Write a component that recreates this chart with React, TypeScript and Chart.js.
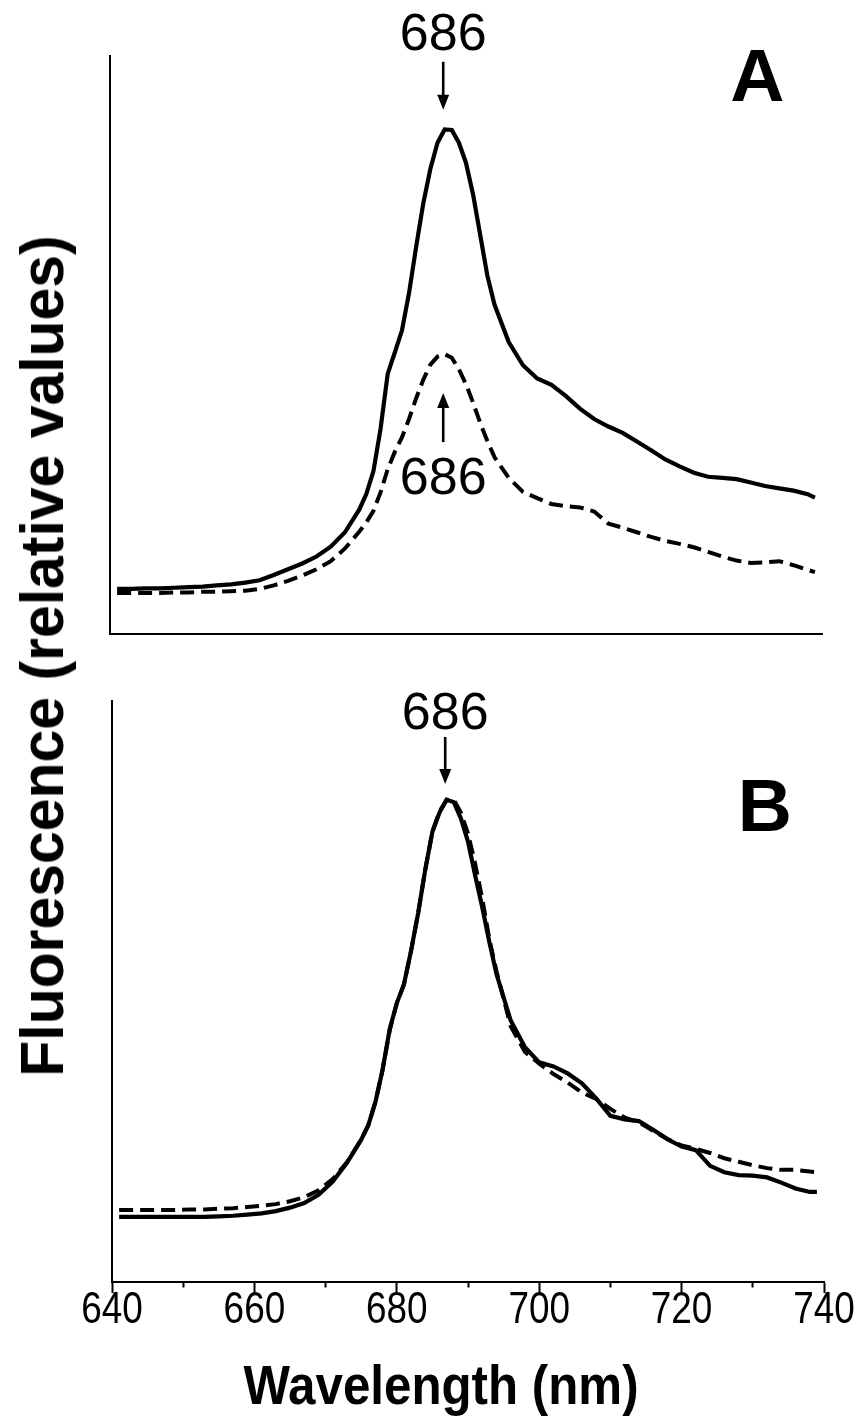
import React, { useEffect, useRef } from 'react';
import { Chart, registerables } from 'chart.js';

Chart.register(...registerables);

// ---- data ----
const wavelengths = [
  641, 643, 645, 647, 649, 651, 653, 655, 657, 659, 661, 663, 665, 667, 669, 671, 673, 675,
  676, 677, 678, 679, 680, 681, 682, 683, 684, 685, 686, 687, 688, 689, 690, 691, 692, 693, 694,
  696, 698, 700, 702, 704, 706, 708, 710, 712, 714, 716, 718, 720, 722, 724, 726, 728, 730, 732, 734, 736, 738,
  739,
];

// Panel A, solid curve
const panelASolid = [
  7.8, 7.8, 7.9, 7.9, 8.0, 8.1, 8.2, 8.4, 8.6, 8.9, 9.3, 10.2, 11.2, 12.2, 13.4, 15.1, 17.6, 21.5,
  24.2, 28.2, 35.5, 45.0, 48.7, 52.5, 59.0, 67.0, 74.5, 80.5, 85.0, 87.3, 87.2, 85.0, 81.5, 76.0, 69.0, 62.0, 57.0,
  50.5, 46.5, 44.2, 43.1, 41.2, 39.0, 37.2, 35.9, 34.8, 33.3, 31.8, 30.2, 29.0, 27.9, 27.2, 27.0, 26.8, 26.2, 25.6, 25.2, 24.8, 24.2,
  23.6,
];

// Panel A, dashed curve
const panelADashed = [
  7.1, 7.1, 7.1, 7.1, 7.2, 7.2, 7.3, 7.3, 7.4, 7.5, 7.8, 8.4, 9.2, 10.1, 11.2, 12.6, 14.8, 17.7,
  19.3, 21.3, 24.5, 28.5, 31.5, 34.0, 37.2, 40.8, 44.0, 46.6, 48.0, 48.4, 47.8, 45.8, 43.2, 40.0, 36.5, 33.4, 30.6,
  27.0, 24.6, 23.5, 22.5, 22.1, 21.9, 21.2, 19.1, 18.4, 17.6, 16.8, 16.1, 15.6, 15.0, 14.2, 13.4, 12.7, 12.3, 12.4, 12.6, 11.9, 11.1,
  10.7,
];

// Panel B, solid curve
const panelBSolid = [
  11.2, 11.2, 11.2, 11.2, 11.2, 11.2, 11.2, 11.3, 11.4, 11.6, 11.8, 12.2, 12.8, 13.6, 15.0, 17.3, 20.5, 24.5,
  27.0, 31.0, 36.5, 43.5, 48.0, 51.2, 57.0, 63.5, 71.0, 77.5, 80.8, 83.0, 82.6, 79.8, 75.8, 70.0, 64.5, 58.5, 53.0,
  45.0, 40.4, 37.8, 37.1, 35.9, 34.2, 31.6, 28.6, 28.0, 27.7, 26.2, 24.6, 23.3, 22.7, 20.0, 18.9, 18.4, 18.3, 18.0, 17.1, 16.1, 15.5,
  15.5,
];

// Panel B, dashed curve
const panelBDashed = [
  12.4, 12.4, 12.4, 12.4, 12.4, 12.5, 12.5, 12.6, 12.7, 12.9, 13.1, 13.4, 13.9, 14.6, 15.8, 17.7, 20.6, 24.5,
  27.0, 31.0, 36.5, 43.3, 48.0, 51.2, 57.0, 63.5, 71.0, 77.5, 81.0, 83.0, 83.0, 80.8, 77.2, 72.0, 66.0, 59.0, 53.5,
  44.0, 39.6, 37.6, 35.8, 34.3, 32.6, 31.5, 29.8, 28.3, 27.5, 26.0, 24.6, 23.5, 22.9, 22.2, 21.3, 20.7, 20.1, 19.6, 19.3, 19.3, 19.0,
  18.9,
];

const xTickLabels = [640, 660, 680, 700, 720, 740];
const peakLabel = '686';
const peakWavelength = 686.8;
const yTitle = 'Fluorescence (relative values)';
const xTitle = 'Wavelength (nm)';

const FONT = "'Liberation Sans', Arial, Helvetica, sans-serif";
const NARROW_SCALE = 0.82;

type Note = {
  text: string;
  x: number;
  y: number;
  size: number;
  bold?: boolean;
};
type ArrowNote = { x: number; from: number; to: number };

function toPoints(values: number[]) {
  return values.map((v, i) => ({ x: wavelengths[i], y: v }));
}

function drawArrow(ctx: CanvasRenderingContext2D, x: number, yFrom: number, yTo: number) {
  const dir = yTo > yFrom ? 1 : -1;
  const headLen = 15;
  const headHalf = 6;
  ctx.save();
  ctx.strokeStyle = '#000';
  ctx.fillStyle = '#000';
  ctx.lineWidth = 2.6;
  ctx.beginPath();
  ctx.moveTo(x, yFrom);
  ctx.lineTo(x, yTo - dir * (headLen - 2));
  ctx.stroke();
  ctx.beginPath();
  ctx.moveTo(x, yTo);
  ctx.lineTo(x - headHalf, yTo - dir * headLen);
  ctx.lineTo(x + headHalf, yTo - dir * headLen);
  ctx.closePath();
  ctx.fill();
  ctx.restore();
}

function annotationPlugin(id: string, notes: Note[], arrows: ArrowNote[]) {
  return {
    id,
    afterDatasetsDraw(chart: any) {
      const { ctx } = chart;
      const xs = chart.scales.x;
      const ys = chart.scales.y;
      for (const a of arrows) {
        drawArrow(ctx, xs.getPixelForValue(a.x), ys.getPixelForValue(a.from), ys.getPixelForValue(a.to));
      }
      for (const n of notes) {
        ctx.save();
        ctx.fillStyle = '#000';
        ctx.font = `${n.bold ? 'bold ' : ''}${n.size}px ${FONT}`;
        ctx.textAlign = 'center';
        ctx.textBaseline = 'alphabetic';
        const px = xs.getPixelForValue(n.x);
        const py = ys.getPixelForValue(n.y) + n.size * 0.358;
        ctx.fillText(n.text, px, py);
        ctx.restore();
      }
    },
  };
}

// narrow (condensed) tick labels placed on the x scale's own tick positions
const narrowTickLabels = {
  id: 'narrowTickLabels',
  afterDraw(chart: any) {
    const { ctx } = chart;
    const xs = chart.scales.x;
    const baseline = chart.chartArea.bottom + 41;
    ctx.save();
    ctx.fillStyle = '#000';
    ctx.font = `45px ${FONT}`;
    ctx.textAlign = 'center';
    ctx.textBaseline = 'alphabetic';
    ctx.scale(NARROW_SCALE, 1);
    for (const t of xs.ticks) {
      if (!xTickLabels.includes(Number(t.value))) continue;
      const px = xs.getPixelForValue(t.value);
      ctx.fillText(String(t.value), px / NARROW_SCALE, baseline);
    }
    ctx.restore();
  },
};

function datasets(solid: number[], dashed: number[]) {
  return [
    {
      label: 'solid',
      data: toPoints(solid),
      borderColor: '#000',
      borderWidth: 4.2,
      pointRadius: 0,
      tension: 0,
      fill: false,
    },
    {
      label: 'dashed',
      data: toPoints(dashed),
      borderColor: '#000',
      borderWidth: 4,
      borderDash: [14, 7],
      pointRadius: 0,
      tension: 0,
      fill: false,
    },
  ];
}

const yScale = {
  type: 'linear',
  min: 0,
  max: 100,
  ticks: { display: false },
  grid: { display: false },
  border: { display: true, color: '#000', width: 2 },
  afterFit: (s: any) => {
    s.width = 0;
  },
};

export default function App() {
  const refA = useRef<HTMLCanvasElement>(null);
  const refB = useRef<HTMLCanvasElement>(null);

  useEffect(() => {
    document.body.style.margin = '0';
    const chartA = new Chart(refA.current as HTMLCanvasElement, {
      type: 'line',
      data: { datasets: datasets(panelASolid, panelADashed) as any },
      options: {
        responsive: false,
        animation: false,
        devicePixelRatio: 1,
        layout: { padding: { left: 110, right: 43, top: 56, bottom: 26 } },
        plugins: { legend: { display: false }, tooltip: { enabled: false } },
        scales: {
          x: {
            type: 'linear',
            min: 640,
            max: 740,
            ticks: { display: false },
            grid: { display: false },
            border: { display: true, color: '#000', width: 2 },
            afterFit: (s: any) => {
              s.height = 0;
            },
          },
          y: yScale as any,
        },
      } as any,
      plugins: [
        annotationPlugin(
          'notesA',
          [
            { text: peakLabel, x: peakWavelength, y: 104.2, size: 52 },
            { text: peakLabel, x: peakWavelength, y: 27.4, size: 52 },
            { text: 'A', x: 730.9, y: 96.8, size: 75, bold: true },
          ],
          [
            { x: peakWavelength, from: 99.0, to: 90.7 },
            { x: peakWavelength, from: 33.2, to: 41.7 },
          ]
        ),
      ],
    });

    const chartB = new Chart(refB.current as HTMLCanvasElement, {
      type: 'line',
      data: { datasets: datasets(panelBSolid, panelBDashed) as any },
      options: {
        responsive: false,
        animation: false,
        devicePixelRatio: 1,
        layout: { padding: { left: 112, right: 41, top: 41, bottom: 0 } },
        plugins: { legend: { display: false }, tooltip: { enabled: false } },
        scales: {
          x: {
            type: 'linear',
            min: 640,
            max: 740,
            ticks: {
              stepSize: 10,
              autoSkip: false,
              maxRotation: 0,
              minRotation: 0,
              color: '#000',
              font: { family: FONT, size: 12 },
              callback: () => '',
            },
            grid: {
              display: true,
              drawOnChartArea: false,
              drawTicks: true,
              tickLength: 11,
              tickWidth: 2,
              tickColor: '#000',
              tickBorderDash: (c: any) =>
                c.tick && !xTickLabels.includes(Number(c.tick.value)) ? [4.5, 30] : [],
            },
            border: { display: true, color: '#000', width: 2 },
            afterFit: (s: any) => {
              s.height = 145;
            },
          },
          y: yScale as any,
        },
      } as any,
      plugins: [
        narrowTickLabels,
        annotationPlugin(
          'notesB',
          [
            { text: peakLabel, x: peakWavelength, y: 98.3, size: 52 },
            { text: 'B', x: 731.7, y: 82.3, size: 75, bold: true },
          ],
          [{ x: peakWavelength, from: 93.8, to: 85.7 }]
        ),
      ],
    });

    return () => {
      chartA.destroy();
      chartB.destroy();
    };
  }, []);

  return (
    <div style={{ position: 'relative', width: 865, height: 1427, background: '#fff', overflow: 'hidden' }}>
      <canvas ref={refA} width={865} height={660} style={{ position: 'absolute', left: 0, top: 0 }} />
      <canvas ref={refB} width={865} height={767} style={{ position: 'absolute', left: 0, top: 660 }} />
      <div
        style={{
          position: 'absolute',
          left: 42 - 450,
          top: 656 - 40,
          width: 900,
          height: 80,
          lineHeight: '80px',
          textAlign: 'center',
          whiteSpace: 'nowrap',
          transform: 'rotate(-90deg) scaleX(0.95)',
          fontFamily: FONT,
          fontWeight: 'bold',
          fontSize: 62,
          color: '#000',
        }}
      >
        {yTitle}
      </div>
      <div
        style={{
          position: 'absolute',
          left: 441 - 300,
          top: 1385 - 40,
          width: 600,
          height: 80,
          lineHeight: '80px',
          textAlign: 'center',
          whiteSpace: 'nowrap',
          transform: 'scaleX(0.88)',
          fontFamily: FONT,
          fontWeight: 'bold',
          fontSize: 56,
          color: '#000',
        }}
      >
        {xTitle}
      </div>
    </div>
  );
}
